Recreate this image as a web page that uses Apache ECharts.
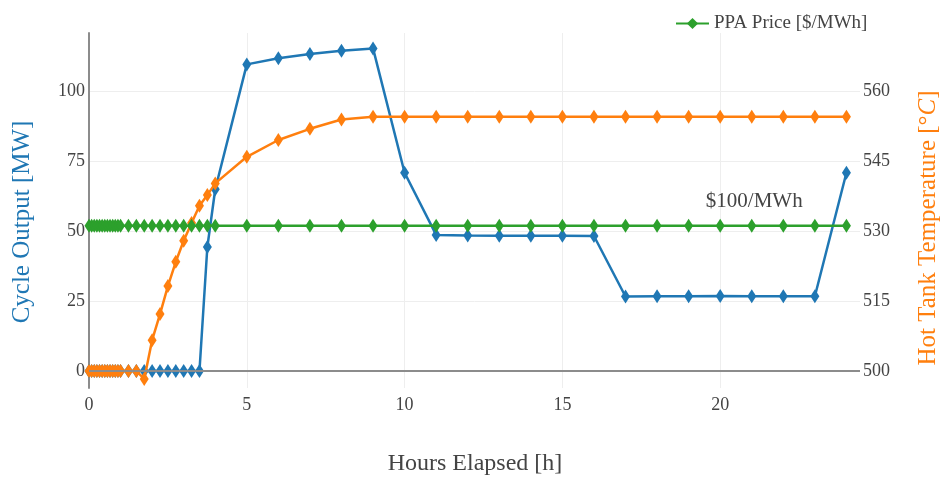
<!DOCTYPE html>
<html>
<head>
<meta charset="utf-8">
<script src="https://cdn.jsdelivr.net/npm/echarts@6/dist/echarts.min.js"></script>
<style>
  html, body { margin: 0; padding: 0; background: #fff; }
  #chart { width: 941px; height: 479px; }
</style>
</head>
<body>
<div id="chart"></div>
<script>
// Time axis (hours): 5-minute steps for the first hour, quarter hours to 4 h, then hourly.
const hours = [0, 0.083, 0.167, 0.25, 0.333, 0.417, 0.5, 0.583, 0.667, 0.75, 0.833, 0.917, 1.0,
  1.25, 1.5, 1.75, 2.0, 2.25, 2.5, 2.75, 3.0, 3.25, 3.5, 3.75, 4.0,
  5, 6, 7, 8, 9, 10, 11, 12, 13, 14, 15, 16, 17, 18, 19, 20, 21, 22, 23, 24];

// Cycle output [MW]
const cycleOutput = [0, 0, 0, 0, 0, 0, 0, 0, 0, 0, 0, 0, 0,
  0, 0, 0, 0, 0, 0, 0, 0, 0, 0, 44.3, 64.9,
  109.5, 111.7, 113.2, 114.4, 115.2, 70.8, 48.6, 48.4, 48.3, 48.3, 48.3, 48.2,
  26.6, 26.7, 26.7, 26.8, 26.7, 26.7, 26.7, 70.8];

// Hot tank temperature [C]
const hotTankTemp = [500, 500, 500, 500, 500, 500, 500, 500, 500, 500, 500, 500, 500,
  500, 500, 498.3, 506.6, 512.2, 518.2, 523.4, 527.9, 531.7, 535.4, 537.7, 540.2,
  545.9, 549.5, 551.9, 553.9, 554.5, 554.5, 554.5, 554.5, 554.5, 554.5, 554.5, 554.5,
  554.5, 554.5, 554.5, 554.5, 554.5, 554.5, 554.5, 554.5];

// PPA price [$/MWh]
const ppaPrice = [100, 100, 100, 100, 100, 100, 100, 100, 100, 100, 100, 100, 100,
  100, 100, 100, 100, 100, 100, 100, 100, 100, 100, 100, 100,
  100, 100, 100, 100, 100, 100, 100, 100, 100, 100, 100, 100,
  100, 100, 100, 100, 100, 100, 100, 100];

const xTicks = [0, 5, 10, 15, 20];
const outputTicks = [0, 25, 50, 75, 100];
const tempTicks = [500, 515, 530, 545, 560];

const pair = (xs, ys) => xs.map((x, i) => [x, ys[i]]);

const BLUE = '#1f77b4', ORANGE = '#ff7f0e', GREEN = '#2ca02c';
const SERIF = '"Liberation Serif", "Times New Roman", serif';
const TEXT = '#444';

const chart = echarts.init(document.getElementById('chart'), null, { renderer: 'canvas' });

const lineSeries = (name, data, color, yAxisIndex) => ({
  name, type: 'line', data, yAxisIndex,
  symbol: 'diamond', symbolSize: [9, 14],
  lineStyle: { color, width: 2.5 },
  itemStyle: { color },
  animation: false, clip: false
});

chart.setOption({
  animation: false,
  backgroundColor: '#fff',
  textStyle: { fontFamily: SERIF },
  grid: { left: 89, right: 81, top: 33, bottom: 91, containLabel: false },
  legend: {
    data: ['PPA Price [$/MWh]'],
    left: 670, top: 9,
    itemWidth: 33, itemHeight: 14,
    selectedMode: false,
    textStyle: { fontFamily: SERIF, fontSize: 19, color: TEXT }
  },
  xAxis: {
    type: 'value', min: 0, max: 24.43,
    axisLine: { show: false },
    axisTick: { show: false, customValues: xTicks },
    axisLabel: { customValues: xTicks, fontFamily: SERIF, fontSize: 18, color: TEXT, margin: 8 },
    splitLine: { show: true, customValues: xTicks, lineStyle: { color: '#eeeeee', width: 1 } }
  },
  yAxis: [
    {
      type: 'value', position: 'left', min: -6.07, max: 120.71,
      axisLine: { show: true, lineStyle: { color: '#8c8c8c', width: 2 } },
      axisTick: { show: false, customValues: outputTicks },
      axisLabel: { customValues: outputTicks, fontFamily: SERIF, fontSize: 18, color: TEXT, margin: 4 },
      splitLine: { show: true, customValues: outputTicks, lineStyle: { color: '#eeeeee', width: 1 } }
    },
    {
      type: 'value', position: 'right', min: 496.36, max: 572.43,
      axisLine: { show: false },
      axisTick: { show: false, customValues: tempTicks },
      axisLabel: { customValues: tempTicks, fontFamily: SERIF, fontSize: 18, color: TEXT, margin: 3 },
      splitLine: { show: false }
    },
    {
      type: 'value', position: 'right', min: 0, max: 218.7, show: false,
      splitLine: { show: false }
    }
  ],
  series: [
    Object.assign(lineSeries('Cycle Output [MW]', pair(hours, cycleOutput), BLUE, 0), {
      markLine: {
        silent: true, symbol: 'none', animation: false,
        label: { show: false },
        lineStyle: { color: '#8c8c8c', width: 2, type: 'solid' },
        data: [{ yAxis: 0 }]
      },
      z: 2
    }),
    Object.assign(lineSeries('Hot Tank Temperature', pair(hours, hotTankTemp), ORANGE, 1), { z: 3 }),
    Object.assign(lineSeries('PPA Price [$/MWh]', pair(hours, ppaPrice), GREEN, 2), {
      z: 4,
      markPoint: {
        silent: true, animation: false,
        symbol: 'rect', symbolSize: 1,
        itemStyle: { color: 'transparent' },
        label: {
          show: true, position: 'inside', offset: [0, -24],
          formatter: '$' + ppaPrice[ppaPrice.length - 1] + '/MWh',
          fontFamily: SERIF, fontSize: 21, color: TEXT
        },
        data: [{ coord: [21.08, ppaPrice[ppaPrice.length - 1]] }]
      }
    })
  ],
  graphic: [
    {
      type: 'text', x: 22, y: 222, rotation: Math.PI / 2,
      style: { text: 'Cycle Output [MW]', fill: BLUE, font: '25px ' + SERIF, align: 'center', verticalAlign: 'middle' }
    },
    {
      type: 'text', x: 928, y: 228, rotation: Math.PI / 2,
      style: {
        text: 'Hot Tank Temperature [{deg|°}{it|C}]',
        fill: ORANGE, font: '25px ' + SERIF, align: 'center', verticalAlign: 'middle',
        rich: {
          deg: { fill: ORANGE, font: '25px ' + SERIF },
          it: { fill: ORANGE, font: 'italic 25px ' + SERIF }
        }
      }
    },
    {
      type: 'text', x: 475, y: 464,
      style: { text: 'Hours Elapsed [h]', fill: TEXT, font: '24px ' + SERIF, align: 'center', verticalAlign: 'middle' }
    }
  ]
});
</script>
</body>
</html>
